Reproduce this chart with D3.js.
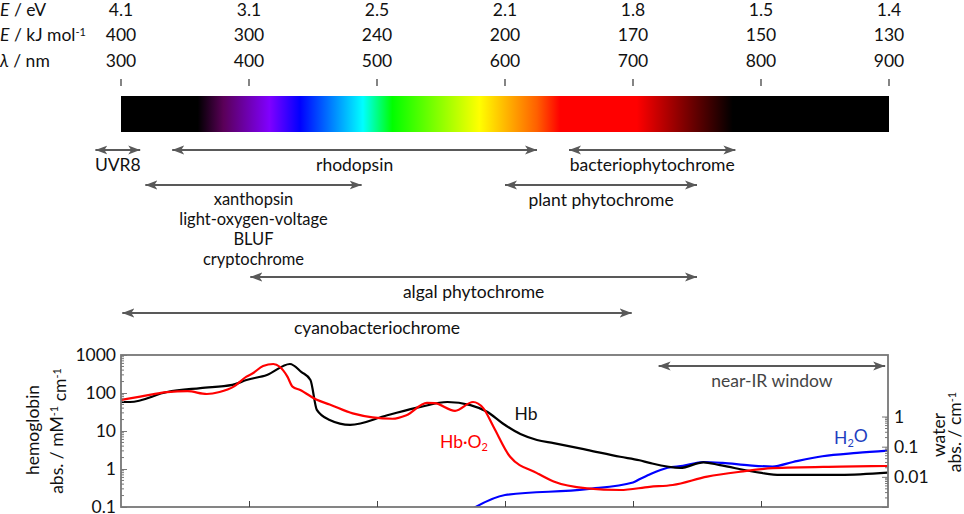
<!DOCTYPE html>
<html>
<head>
<meta charset="utf-8">
<script src="https://cdn.jsdelivr.net/npm/d3@7"></script>
<style>
  body { margin: 0; background: #fff; }
  svg text { font-family: Lato, "Open Sans", sans-serif; fill: #111; }
</style>
</head>
<body>
<svg id="chart" width="964" height="514"></svg>
<script>
// top scales
var nmTicks = [300, 400, 500, 600, 700, 800, 900];
var evLabels = ["4.1", "3.1", "2.5", "2.1", "1.8", "1.5", "1.4"];
var kjLabels = ["400", "300", "240", "200", "170", "150", "130"];

// spectrum bar colour stops (wavelength / colour)
var stopNm = [300, 360, 380, 416, 440, 489, 512, 580, 625, 643, 703, 740, 778, 900];
var stopColor = ["#000000", "#000000", "#5a0058", "#8000ff", "#0000ff", "#00ffff", "#00ff00",
  "#ffff00", "#ff6000", "#ff0000", "#ff0000", "#800000", "#000000", "#000000"];

// photoreceptor ranges
var arrowNames = ["UVR8", "rhodopsin", "bacteriophytochrome", "xanthopsin\nlight-oxygen-voltage\nBLUF\ncryptochrome",
  "plant phytochrome", "algal phytochrome", "cyanobacteriochrome"];
var arrowFrom = [280, 340, 650, 319, 600, 401, 301];
var arrowTo = [315, 625, 780, 488, 750, 750, 699];
var arrowLane = [0, 0, 0, 1, 1, 2, 3];

// absorption spectra
var hbNm = [300, 307, 336, 362, 387, 398, 414, 432, 441, 448, 453, 463, 479, 508, 534, 555, 573, 586,
  598, 612, 625, 638, 664, 690, 705, 713, 737, 755, 768, 799, 815, 862, 899];
var hbVal = [58, 58, 106, 135, 163, 220, 298, 580, 356, 220, 36, 19.5, 14.5, 26, 43, 58, 48, 32,
  16, 8.3, 5.8, 4.8, 3.2, 2.1, 1.7, 1.45, 1.07, 1.5, 1.26, 0.8, 0.7, 0.7, 0.8];

var hbo2Nm = [300, 315, 336, 352, 367, 377, 388, 398, 403, 411, 419, 424, 430, 434, 440, 453, 463,
  481, 512, 523, 539, 545, 561, 575, 583, 591, 604, 625, 638, 664, 690, 713, 731, 758, 784, 809, 862, 899];
var hbo2Val = [66, 80, 106, 112, 94, 106, 147, 270, 330, 515, 580, 490, 270, 147, 120, 66, 50,
  29, 21, 26, 55, 54, 34, 58, 40, 13, 2.1, 0.78, 0.47, 0.31, 0.28, 0.34, 0.38, 0.63, 0.85, 1.05, 1.15, 1.2];

var waterNm = [575, 600, 664, 700, 705, 713, 727, 739, 755, 770, 791, 809, 825, 848, 875, 899];
var waterVal = [0.0009, 0.0025, 0.0039, 0.0065, 0.0083, 0.012, 0.02, 0.023, 0.031, 0.029, 0.024, 0.022,
  0.031, 0.048, 0.062, 0.074];

var hbAxisTicks = [0.1, 1, 10, 100, 1000];
var waterAxisTicks = [0.01, 0.1, 1];

var svg = d3.select("#chart");
var grey = "#595959";
var fs = "17.5px";

var x = d3.scaleLinear().domain([300, 900]).range([121, 889]);
var plot = {top: 355, bottom: 507, left: 121, right: 888};
var yL = d3.scaleLog().domain([0.1, 1000]).range([plot.bottom, plot.top]);
var yR = d3.scaleLog().domain([0.001, 1]).range([plot.bottom, 416.5]);

// ---------- header rows ----------
var rowY = [10, 35, 61];
var head = svg.append("g").style("font-size", fs);
var h1 = head.append("text").attr("x", 0).attr("y", rowY[0]).attr("dy", "0.35em");
h1.append("tspan").style("font-style", "italic").text("E");
h1.append("tspan").text(" / eV");
var h2 = head.append("text").attr("x", 0).attr("y", rowY[1]).attr("dy", "0.35em");
h2.append("tspan").style("font-style", "italic").text("E");
h2.append("tspan").text(" / kJ mol");
h2.append("tspan").attr("dy", "-0.45em").style("font-size", "11px").text("-1");
var h3 = head.append("text").attr("x", 0).attr("y", rowY[2]).attr("dy", "0.35em");
h3.append("tspan").style("font-style", "italic").text("λ");
h3.append("tspan").text(" / nm");

[evLabels, kjLabels, nmTicks].forEach(function(labels, r) {
  head.selectAll(null).data(labels).enter().append("text")
    .attr("x", (d, i) => x(nmTicks[i]))
    .attr("y", rowY[r]).attr("dy", "0.35em")
    .attr("text-anchor", "middle")
    .text(d => d);
});

svg.append("g").selectAll("line").data(nmTicks).enter().append("line")
  .attr("x1", d => x(d)).attr("x2", d => x(d))
  .attr("y1", 79).attr("y2", 86)
  .attr("stroke", "#333").attr("stroke-width", 1.2);

// ---------- spectrum bar ----------
var defs = svg.append("defs");
var grad = defs.append("linearGradient").attr("id", "spectrum")
  .attr("gradientUnits", "userSpaceOnUse")
  .attr("x1", x(300)).attr("x2", x(900)).attr("y1", 0).attr("y2", 0);
grad.selectAll("stop").data(stopNm).enter().append("stop")
  .attr("offset", d => (d - 300) / 600)
  .attr("stop-color", (d, i) => stopColor[i]);

svg.append("rect").attr("x", x(300)).attr("y", 96)
  .attr("width", x(900) - x(300)).attr("height", 36)
  .attr("fill", "url(#spectrum)");

// ---------- arrows ----------
defs.append("marker").attr("id", "head")
  .attr("viewBox", "0 0 12 10").attr("refX", 12).attr("refY", 5)
  .attr("markerWidth", 12).attr("markerHeight", 10)
  .attr("markerUnits", "userSpaceOnUse").attr("orient", "auto-start-reverse")
  .append("path").attr("d", "M0,0.5 L12,5 L0,9.5 L3,5 Z").attr("fill", grey);

function arrow(g, x1, x2, y) {
  g.append("line").attr("x1", x1).attr("x2", x2).attr("y1", y).attr("y2", y)
    .attr("stroke", grey).attr("stroke-width", 2)
    .attr("marker-start", "url(#head)").attr("marker-end", "url(#head)");
}

var laneY = [150, 185, 277, 313];
var ag = svg.append("g").style("font-size", fs);
arrowNames.forEach(function(name, i) {
  var y = laneY[arrowLane[i]];
  var cx = (x(arrowFrom[i]) + x(arrowTo[i])) / 2;
  var lines = name.split("\n");
  var multi = lines.length > 1;
  arrow(ag, x(arrowFrom[i]), x(arrowTo[i]), y);
  lines.forEach(function(line, j) {
    ag.append("text").attr("text-anchor", "middle")
      .attr("x", cx).attr("y", y + (multi ? 14.5 : 15) + j * 19.9).attr("dy", "0.35em")
      .style("font-size", multi ? "16.5px" : null)
      .text(line);
  });
});

// ---------- absorption plot ----------
var pg = svg.append("g");
defs.append("clipPath").attr("id", "plotclip").append("rect")
  .attr("x", plot.left).attr("y", plot.top)
  .attr("width", plot.right - plot.left).attr("height", plot.bottom - plot.top);

// near-IR window
arrow(pg, x(720), x(897), 366);
pg.append("text").attr("x", (x(720) + x(897)) / 2).attr("y", 381).attr("dy", "0.35em")
  .attr("text-anchor", "middle").style("font-size", fs).style("fill", "#444")
  .text("near-IR window");

var lineL = d3.line().x(d => x(d[0])).y(d => yL(d[1])).curve(d3.curveMonotoneX);
var lineR = d3.line().x(d => x(d[0])).y(d => yR(d[1])).curve(d3.curveMonotoneX);

var curves = pg.append("g").attr("clip-path", "url(#plotclip)").attr("fill", "none").attr("stroke-width", 2.2);
curves.append("path").attr("d", lineR(d3.zip(waterNm, waterVal))).attr("stroke", "#0000ff");
curves.append("path").attr("d", lineL(d3.zip(hbNm, hbVal))).attr("stroke", "#000");
curves.append("path").attr("d", lineL(d3.zip(hbo2Nm, hbo2Val))).attr("stroke", "#ff0000");

// frame
pg.append("rect").attr("x", plot.left).attr("y", plot.top)
  .attr("width", plot.right - plot.left).attr("height", plot.bottom - plot.top)
  .attr("fill", "none").attr("stroke", "#777").attr("stroke-width", 1.8);

// left axis (ticks inside)
var leftAxis = d3.axisRight(yL).tickValues(hbAxisTicks).tickSize(6).tickFormat("");
var lg = pg.append("g").attr("transform", `translate(${plot.left},0)`).call(leftAxis);
lg.select(".domain").remove();
var minorL = [];
hbAxisTicks.slice(0, -1).forEach(function(t) { for (var k = 2; k < 10; k++) minorL.push(t * k); });
lg.selectAll(".minor").data(minorL).enter().append("line")
  .attr("x1", 0).attr("x2", 3).attr("y1", d => yL(d)).attr("y2", d => yL(d))
  .attr("stroke", "#777");
lg.selectAll("line").attr("stroke", "#777");
pg.append("g").selectAll("text").data(hbAxisTicks).enter().append("text")
  .attr("x", 116).attr("y", d => yL(d)).attr("dy", "0.35em")
  .attr("text-anchor", "end").style("font-size", fs)
  .text(d => d);

// right axis (ticks inside)
var rightAxis = d3.axisLeft(yR).tickValues(waterAxisTicks.concat([0.001])).tickSize(6).tickFormat("");
var rg = pg.append("g").attr("transform", `translate(${plot.right},0)`).call(rightAxis);
rg.select(".domain").remove();
var minorR = [];
[0.001, 0.01, 0.1].forEach(function(t) { for (var k = 2; k < 10; k++) minorR.push(t * k); });
rg.selectAll(".minor").data(minorR).enter().append("line")
  .attr("x1", 0).attr("x2", -3).attr("y1", d => yR(d)).attr("y2", d => yR(d))
  .attr("stroke", "#777");
rg.selectAll("line").attr("stroke", "#777");
pg.append("g").selectAll("text").data(waterAxisTicks).enter().append("text")
  .attr("x", 894).attr("y", d => yR(d)).attr("dy", "0.35em")
  .style("font-size", fs)
  .text(d => d);

// bottom ticks (inside)
var bottomAxis = d3.axisTop(x).tickValues(nmTicks.slice(1, -1)).tickSize(6).tickFormat("");
var bg = pg.append("g").attr("transform", `translate(0,${plot.bottom})`).call(bottomAxis);
bg.select(".domain").remove();
bg.selectAll("line").attr("stroke", "#444");

// axis titles
pg.append("text").attr("transform", "translate(33,430) rotate(-90)")
  .attr("text-anchor", "middle").attr("dy", "0.35em").style("font-size", fs).text("hemoglobin");
var t2 = pg.append("text").attr("transform", "translate(57,431) rotate(-90)")
  .attr("text-anchor", "middle").attr("dy", "0.35em").style("font-size", fs);
t2.append("tspan").text("abs. / mM");
t2.append("tspan").attr("dy", "-0.45em").style("font-size", "11px").text("-1");
t2.append("tspan").attr("dy", "0.45em").text(" cm");
t2.append("tspan").attr("dy", "-0.45em").style("font-size", "11px").text("-1");

pg.append("text").attr("transform", "translate(939,435) rotate(-90)")
  .attr("text-anchor", "middle").attr("dy", "0.35em").style("font-size", fs).text("water");
var t4 = pg.append("text").attr("transform", "translate(955,432) rotate(-90)")
  .attr("text-anchor", "middle").attr("dy", "0.35em").style("font-size", fs);
t4.append("tspan").text("abs. / cm");
t4.append("tspan").attr("dy", "-0.45em").style("font-size", "11px").text("-1");

// series labels
pg.append("text").attr("x", 526).attr("y", 414).attr("dy", "0.35em").attr("text-anchor", "middle")
  .style("font-size", fs).text("Hb");
var ho = pg.append("text").attr("x", 440).attr("y", 442).attr("dy", "0.35em")
  .style("font-size", fs).style("fill", "#ff0000");
ho.append("tspan").text("Hb·O");
ho.append("tspan").attr("dy", "0.3em").style("font-size", "11px").text("2");
var hw = pg.append("text").attr("x", 834).attr("y", 438).attr("dy", "0.35em")
  .style("font-size", fs).style("fill", "#1f3fbf");
hw.append("tspan").text("H");
hw.append("tspan").attr("dy", "0.3em").style("font-size", "11px").text("2");
hw.append("tspan").attr("dy", "-0.3em").text("O");
</script>
</body>
</html>
